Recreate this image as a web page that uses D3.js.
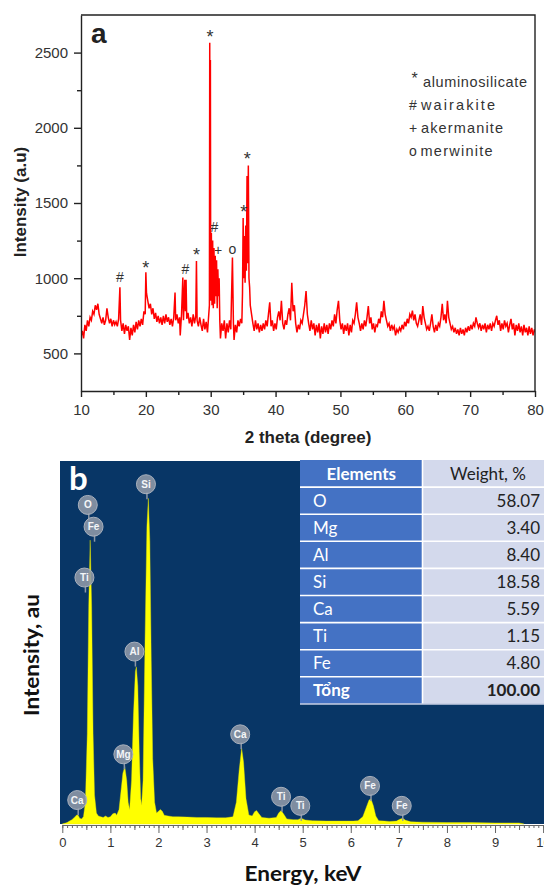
<!DOCTYPE html>
<html><head><meta charset="utf-8">
<script src="https://cdn.jsdelivr.net/npm/d3@7"></script>
<style>body{margin:0;background:#fff}svg{display:block}</style>
</head><body>
<svg id="c" width="544" height="885"></svg>
<script>
// ---------- Panel a : XRD ----------
const xrdPattern = [
[10.0,610],[10.2,650],[10.4,600],[10.6,690],[10.8,650],[11.0,720],[11.2,680],[11.4,740],[11.6,720],[11.8,780],
[12.0,760],[12.2,820],[12.4,790],[12.6,830],[12.8,760],[13.0,730],[13.2,700],[13.4,740],[13.6,690],[13.8,720],
[14.0,800],[14.2,740],[14.4,700],[14.6,730],[14.8,680],[15.0,720],[15.2,690],[15.4,710],[15.6,680],[15.8,730],
[16.0,940],[16.1,720],[16.3,650],[16.5,700],[16.7,630],[16.9,690],[17.1,650],[17.3,680],[17.5,590],[17.7,670],
[17.9,620],[18.1,690],[18.3,640],[18.5,710],[18.7,660],[18.9,720],[19.1,680],[19.3,730],[19.5,690],[19.7,780],
[19.9,760],[20.0,1040],[20.1,900],[20.3,850],[20.5,800],[20.7,830],[20.9,760],[21.1,800],[21.3,730],[21.5,770],
[21.7,710],[21.9,750],[22.1,700],[22.3,740],[22.5,690],[22.7,750],[22.9,700],[23.1,760],[23.3,710],[23.5,740],
[23.7,690],[23.9,730],[24.1,680],[24.3,740],[24.5,905],[24.6,720],[24.8,760],[25.0,700],[25.2,740],[25.3,620],
[25.5,760],[25.7,1005],[25.8,720],[26.0,990],[26.1,780],[26.2,990],[26.3,730],[26.5,770],[26.7,700],[26.9,740],
[27.1,680],[27.3,760],[27.5,700],[27.7,750],[27.8,1115],[27.9,720],[28.1,680],[28.3,740],[28.5,690],[28.7,650],
[28.9,730],[29.1,660],[29.3,710],[29.5,640],[29.7,760],[29.8,820],[29.85,2565],[29.9,1200],[29.95,2450],[30.0,850],
[30.1,1300],[30.2,820],[30.3,1250],[30.4,800],[30.5,1200],[30.6,830],[30.7,1150],[30.8,880],[30.9,1120],[31.0,800],
[31.1,1060],[31.2,880],[31.3,1000],[31.4,720],[31.5,600],[31.7,700],[31.9,650],[32.1,720],[32.3,600],[32.5,700],
[32.7,640],[32.9,720],[33.1,660],[33.2,860],[33.35,1137],[33.5,700],[33.6,590],[33.8,690],[34.0,640],[34.2,720],
[34.4,680],[34.6,730],[34.8,700],[34.9,900],[35.0,1400],[35.1,1000],[35.2,1280],[35.3,970],[35.4,1350],[35.5,1050],
[35.6,1680],[35.7,1100],[35.8,1750],[35.9,1000],[36.0,940],[36.1,820],[36.3,760],[36.5,700],[36.7,650],[36.9,720],
[37.1,660],[37.3,700],[37.5,640],[37.7,690],[37.9,650],[38.1,700],[38.3,660],[38.5,720],[38.7,680],[38.9,760],
[39.1,840],[39.3,680],[39.5,720],[39.7,650],[39.9,700],[40.1,660],[40.3,740],[40.5,780],[40.7,720],[40.9,850],
[41.1,700],[41.3,660],[41.5,720],[41.7,690],[41.9,760],[42.1,800],[42.3,720],[42.5,970],[42.7,780],[42.9,820],
[43.1,700],[43.3,640],[43.5,690],[43.7,660],[43.9,720],[44.1,700],[44.3,760],[44.5,820],[44.7,915],[44.9,760],
[45.1,700],[45.3,650],[45.5,720],[45.7,660],[45.9,700],[46.1,620],[46.3,690],[46.5,640],[46.7,700],[46.9,600],
[47.1,680],[47.3,630],[47.5,700],[47.7,640],[47.9,690],[48.1,630],[48.3,700],[48.5,660],[48.7,720],[48.9,680],
[49.1,760],[49.3,700],[49.5,790],[49.7,850],[49.9,720],[50.1,660],[50.3,700],[50.5,630],[50.7,690],[50.9,650],
[51.1,700],[51.3,620],[51.5,690],[51.7,640],[51.9,720],[52.1,700],[52.3,760],[52.5,840],[52.7,740],[52.9,700],
[53.1,650],[53.3,700],[53.5,660],[53.7,720],[53.9,680],[54.1,740],[54.3,815],[54.5,700],[54.7,740],[54.9,660],
[55.1,700],[55.3,640],[55.5,690],[55.7,680],[55.9,730],[56.1,700],[56.3,780],[56.5,740],[56.7,850],[56.9,760],
[57.1,720],[57.3,680],[57.5,700],[57.7,650],[57.9,690],[58.1,660],[58.3,680],[58.5,620],[58.7,660],[58.9,640],
[59.1,670],[59.3,650],[59.5,690],[59.7,660],[59.9,710],[60.1,680],[60.3,730],[60.5,700],[60.7,760],[60.9,740],
[61.1,785],[61.3,720],[61.5,760],[61.7,700],[61.9,680],[62.1,720],[62.3,760],[62.5,690],[62.7,815],[62.9,740],
[63.1,700],[63.3,660],[63.5,680],[63.7,650],[63.9,700],[64.1,760],[64.3,680],[64.5,640],[64.7,690],[64.9,650],
[65.1,700],[65.3,680],[65.5,740],[65.7,830],[65.9,720],[66.1,760],[66.3,700],[66.5,850],[66.7,740],[66.9,700],
[67.1,660],[67.3,680],[67.5,640],[67.7,670],[67.9,630],[68.1,660],[68.3,620],[68.5,670],[68.7,630],[68.9,660],
[69.1,620],[69.3,670],[69.5,640],[69.7,680],[69.9,650],[70.1,690],[70.3,660],[70.5,700],[70.7,680],[70.9,740],
[71.1,700],[71.3,670],[71.5,700],[71.7,650],[71.9,690],[72.1,660],[72.3,700],[72.5,640],[72.7,690],[72.9,660],
[73.1,700],[73.3,650],[73.5,700],[73.7,680],[73.9,720],[74.1,750],[74.3,690],[74.5,720],[74.7,650],[74.9,700],
[75.1,660],[75.3,720],[75.5,680],[75.7,700],[75.9,640],[76.1,690],[76.3,730],[76.5,660],[76.7,700],[76.9,620],
[77.1,690],[77.3,650],[77.5,700],[77.7,640],[77.9,680],[78.1,620],[78.3,690],[78.5,640],[78.7,670],[78.9,620],
[79.1,680],[79.3,630],[79.5,670],[79.7,620],[79.9,660],[80.0,640]
];
// phase markers: symbol, 2theta, intensity of the symbol baseline
const xrdMarkSymbols = ["#","*","#","*","#","+","o","*","*","*"];
const xrdMarkTheta   = [16.0,20.0,26.1,27.8,30.55,31.15,33.33,35.1,35.65,29.89];
const xrdMarkLevel   = [975,1026,1031,1112,1310,1153,1159,1400,1750,2564];
const xrdLegendSymbols = ["*","#","+","o"];
const xrdLegendNames = ["aluminosilicate","wairakite","akermanite","merwinite"];
const xrdXTicks = [10,20,30,40,50,60,70,80];
const xrdXMinor = [15,25,35,45,55,65,75];
const xrdYTicks = [500,1000,1500,2000,2500];
const xrdYMinor = [750,1250,1750,2250];

// ---------- Panel b : EDS ----------
const edsSpectrum = [
[0.00,0],[0.05,2],[0.10,4],[0.15,8],[0.20,12],[0.25,18],[0.30,25],[0.33,24],[0.36,16],[0.40,14],
[0.44,20],[0.48,60],[0.52,250],[0.55,600],[0.58,782],[0.61,600],[0.64,250],[0.67,80],[0.71,30],[0.75,22],
[0.80,20],[0.85,18],[0.90,22],[0.95,18],[1.00,20],[1.05,28],[1.10,30],[1.13,24],[1.18,40],[1.22,90],
[1.26,140],[1.30,158],[1.34,120],[1.37,60],[1.40,40],[1.44,120],[1.48,300],[1.52,420],[1.54,433],[1.57,380],
[1.60,200],[1.63,70],[1.65,52],[1.68,120],[1.72,500],[1.76,820],[1.79,897],[1.82,780],[1.85,450],[1.88,180],
[1.92,60],[1.96,30],[2.00,35],[2.04,40],[2.08,35],[2.12,24],[2.20,22],[2.30,20],[2.40,20],[2.60,19],
[2.80,18],[3.00,18],[3.20,17],[3.40,17],[3.55,20],[3.62,60],[3.68,150],[3.73,209],[3.77,170],[3.82,70],
[3.88,25],[3.95,22],[4.00,34],[4.04,37],[4.09,28],[4.15,18],[4.30,16],[4.45,18],[4.50,30],[4.55,37],
[4.60,28],[4.67,14],[4.80,12],[4.90,12],[4.97,16],[5.05,11],[5.20,9],[5.50,8],[5.80,8],[6.05,8],
[6.15,9],[6.25,20],[6.32,45],[6.38,66],[6.42,69],[6.47,50],[6.52,22],[6.58,9],[6.70,8],[6.80,7],
[6.95,8],[7.02,13],[7.08,16],[7.14,10],[7.25,6],[7.50,5],[8.00,4],[8.50,4],[9.00,3],[9.50,3],[9.60,0]
];
const edsLabelNames = ["O","Fe","Ti","Si","Al","Mg","Ca","Ca","Ti","Ti","Fe","Fe"];
const edsLabelKeV   = [0.53,0.65,0.46,1.74,1.50,1.27,0.31,3.70,4.55,4.95,6.40,7.06];
const edsLabelLevel = [879,819,679,936,475,192,66,247,75,50,105,50];
const edsElements = ["O","Mg","Al","Si","Ca","Ti","Fe","Tổng"];
const edsWeights  = ["58.07","3.40","8.40","18.58","5.59","1.15","4.80","100.00"];
const edsXTicks = [0,1,2,3,4,5,6,7,8,9,10];

const svg = d3.select("#c");

// ===== Panel a =====
const ax = d3.scaleLinear().domain([10,80]).range([81,535]);
const ay = d3.scaleLinear().domain([250,2750]).range([391,15]);
const A = svg.append("g");
const fontA = "'Liberation Sans', Arial, sans-serif";

A.append("clipPath").attr("id","clipA").append("rect")
  .attr("x",81).attr("y",15).attr("width",454).attr("height",376);
A.append("path").datum(xrdPattern)
  .attr("clip-path","url(#clipA)")
  .attr("fill","none").attr("stroke","#ff0000").attr("stroke-width",1.5)
  .attr("stroke-linejoin","miter")
  .attr("d", d3.line().x(d=>ax(d[0])).y(d=>ay(d[1])));

function styleAxis(g){
  g.selectAll("path,line").attr("stroke","#222").attr("stroke-width",1.4);
  g.selectAll("text").attr("fill","#333").style("font-family",fontA).style("font-size","15px");
}
A.append("g").attr("transform","translate(0,391)")
  .call(d3.axisBottom(ax).tickValues(xrdXTicks).tickSize(6).tickSizeOuter(0).tickPadding(7).tickFormat(d3.format("d")))
  .call(styleAxis);
A.append("g").attr("transform","translate(0,391)")
  .call(d3.axisBottom(ax).tickValues(xrdXMinor).tickSize(4).tickFormat(""))
  .call(g=>g.select(".domain").remove()).call(styleAxis);
A.append("g").attr("transform","translate(81,0)")
  .call(d3.axisLeft(ay).tickValues(xrdYTicks).tickSize(7).tickSizeOuter(0).tickPadding(6).tickFormat(d3.format("d")))
  .call(styleAxis);
A.append("g").attr("transform","translate(81,0)")
  .call(d3.axisLeft(ay).tickValues(xrdYMinor).tickSize(4).tickFormat(""))
  .call(g=>g.select(".domain").remove()).call(styleAxis);
// frame top/right
A.append("path").attr("d","M81,15H535V391").attr("fill","none").attr("stroke","#222").attr("stroke-width",1.4);

// markers
A.selectAll("text.mark").data(xrdMarkSymbols).join("text").attr("class","mark")
  .attr("x",(d,i)=>ax(xrdMarkTheta[i])).attr("y",(d,i)=>ay(xrdMarkLevel[i]))
  .attr("text-anchor","middle").attr("fill","#333")
  .style("font-family",fontA).style("font-size",d=>d==="*"?"18px":"14px")
  .text(d=>d);

// legend
const legBase = [87,110,133,156];
const legNameX = [423,421,421,420.5];
const legNameW = [104,74,82,72];
A.selectAll("text.legs").data(xrdLegendSymbols).join("text").attr("class","legs")
  .attr("x",d=>d==="*"?411.5:409).attr("y",(d,i)=>legBase[i]-(d==="*"?3:0))
  .attr("fill","#333").style("font-family",fontA).style("font-size",d=>d==="*"?"16px":"14px").text(d=>d);
A.selectAll("text.legn").data(xrdLegendNames).join("text").attr("class","legn")
  .attr("x",(d,i)=>legNameX[i]).attr("y",(d,i)=>legBase[i])
  .attr("textLength",(d,i)=>legNameW[i]).attr("lengthAdjust","spacing")
  .attr("fill","#333").style("font-family",fontA).style("font-size","14.5px").text(d=>d);

A.append("text").attr("x",91).attr("y",43).attr("fill","#222")
  .style("font-family",fontA).style("font-size","28px").style("font-weight","bold").text("a");
A.append("text").attr("transform","translate(26,202) rotate(-90)").attr("text-anchor","middle")
  .attr("fill","#222").style("font-family",fontA).style("font-size","17px").style("font-weight","bold")
  .text("Intensity (a.u)");
A.append("text").attr("x",308).attr("y",443).attr("text-anchor","middle")
  .attr("fill","#222").style("font-family",fontA).style("font-size","17px").style("font-weight","bold")
  .text("2 theta (degree)");

// ===== Panel b =====
const fontB = "Lato, 'Open Sans', sans-serif";
const bx = d3.scaleLinear().domain([0,10]).range([62.3,543.1]);
const by = d3.scaleLinear().domain([0,1000]).range([824,461]);
const B = svg.append("g");
B.append("rect").attr("x",60).attr("y",461).attr("width",484).attr("height",363).attr("fill","#083666");
B.append("path").datum(edsSpectrum).attr("fill","#ffff00").attr("stroke","#e8e800").attr("stroke-width",0.4)
  .attr("d", d3.area().x(d=>bx(d[0])).y0(by(0)).y1(d=>by(d[1])));

// axis
const bAxis = B.append("g").attr("transform","translate(0,825)");
bAxis.call(d3.axisBottom(bx).tickValues(d3.range(0,10.01,0.1)).tickSize(3).tickFormat("").tickSizeOuter(0));
bAxis.append("g").call(d3.axisBottom(bx).tickValues(d3.range(0.5,10,1)).tickSize(5).tickFormat(""))
  .call(g=>g.select(".domain").remove());
bAxis.append("g").call(d3.axisBottom(bx).tickValues(edsXTicks).tickSize(8).tickPadding(5).tickFormat(d3.format("d")))
  .call(g=>g.select(".domain").remove());
bAxis.selectAll("path,line").attr("stroke","#666").attr("stroke-width",1);
bAxis.selectAll("text").attr("fill","#333").style("font-family",fontA).style("font-size","13px");

// element labels
const lab = B.selectAll("g.lab").data(edsLabelNames).join("g").attr("class","lab")
  .attr("transform",(d,i)=>`translate(${bx(edsLabelKeV[i])},${by(edsLabelLevel[i])})`);
lab.append("line").attr("x1",1).attr("x2",1).attr("y1",8).attr("y2",15).attr("stroke","#8d97a6").attr("stroke-width",1.5);
lab.append("circle").attr("r",9.5).attr("fill","#8d97a6").attr("fill-opacity",0.9)
  .attr("stroke","#a9b1bd").attr("stroke-width",1);
lab.append("text").attr("text-anchor","middle").attr("dy","0.35em").attr("fill","#f4f6f8")
  .style("font-family",fontA).style("font-size","10px").style("font-weight","bold").text(d=>d);

// table
const tX0 = 300, tX1 = 422.5, tX2 = 544, tY0 = 460, rowH = 27.1;
const tableRows = [["Elements","Weight, %"]].concat(edsElements.map((e,i)=>[e,edsWeights[i]]));
const T = B.append("g");
T.selectAll("rect.c1").data(tableRows).join("rect").attr("class","c1")
  .attr("x",tX0).attr("y",(d,i)=>tY0+i*rowH).attr("width",tX1-tX0).attr("height",rowH).attr("fill","#4472c4");
T.selectAll("rect.c2").data(tableRows).join("rect").attr("class","c2")
  .attr("x",tX1).attr("y",(d,i)=>tY0+i*rowH).attr("width",tX2-tX1).attr("height",rowH).attr("fill","#d3d9ec");
T.selectAll("line.h").data(d3.range(1,tableRows.length)).join("line").attr("class","h")
  .attr("x1",tX0).attr("x2",tX2).attr("y1",i=>tY0+i*rowH).attr("y2",i=>tY0+i*rowH)
  .attr("stroke","#fff").attr("stroke-width",1.6);
T.append("line").attr("x1",tX1).attr("x2",tX1).attr("y1",tY0).attr("y2",tY0+tableRows.length*rowH)
  .attr("stroke","#fff").attr("stroke-width",1.6);
T.append("line").attr("x1",tX0).attr("x2",tX2).attr("y1",tY0+tableRows.length*rowH).attr("y2",tY0+tableRows.length*rowH)
  .attr("stroke","#c9d0e6").attr("stroke-width",1.5);
T.selectAll("text.t1").data(tableRows).join("text").attr("class","t1")
  .attr("x",(d,i)=>i===0?(tX0+tX1)/2:313).attr("y",(d,i)=>tY0+i*rowH+19.5)
  .attr("text-anchor",(d,i)=>i===0?"middle":"start").attr("fill","#fff")
  .style("font-family",fontB).style("font-size","17px")
  .style("font-weight",(d,i)=>(i===0||i===tableRows.length-1)?"bold":"normal").text(d=>d[0]);
T.selectAll("text.t2").data(tableRows).join("text").attr("class","t2")
  .attr("x",(d,i)=>i===0?488:540).attr("y",(d,i)=>tY0+i*rowH+19.5)
  .attr("text-anchor",(d,i)=>i===0?"middle":"end").attr("fill","#222")
  .style("font-family",fontB).style("font-size","17px")
  .style("font-weight",(d,i)=>i===tableRows.length-1?"bold":"normal").text(d=>d[1]);

B.append("text").attr("x",69).attr("y",490).attr("fill","#fff")
  .style("font-family",fontB).style("font-size","33px").style("font-weight","bold").text("b");
B.append("text").attr("transform","translate(39,655) rotate(-90)").attr("text-anchor","middle")
  .attr("textLength",122).attr("lengthAdjust","spacingAndGlyphs")
  .attr("fill","#111").style("font-family",fontB).style("font-size","20px").style("font-weight","bold")
  .text("Intensity, au");
B.append("text").attr("x",303).attr("y",881).attr("text-anchor","middle")
  .attr("textLength",117).attr("lengthAdjust","spacingAndGlyphs")
  .attr("fill","#111").style("font-family",fontB).style("font-size","20px").style("font-weight","bold")
  .text("Energy, keV");
</script>
</body></html>
